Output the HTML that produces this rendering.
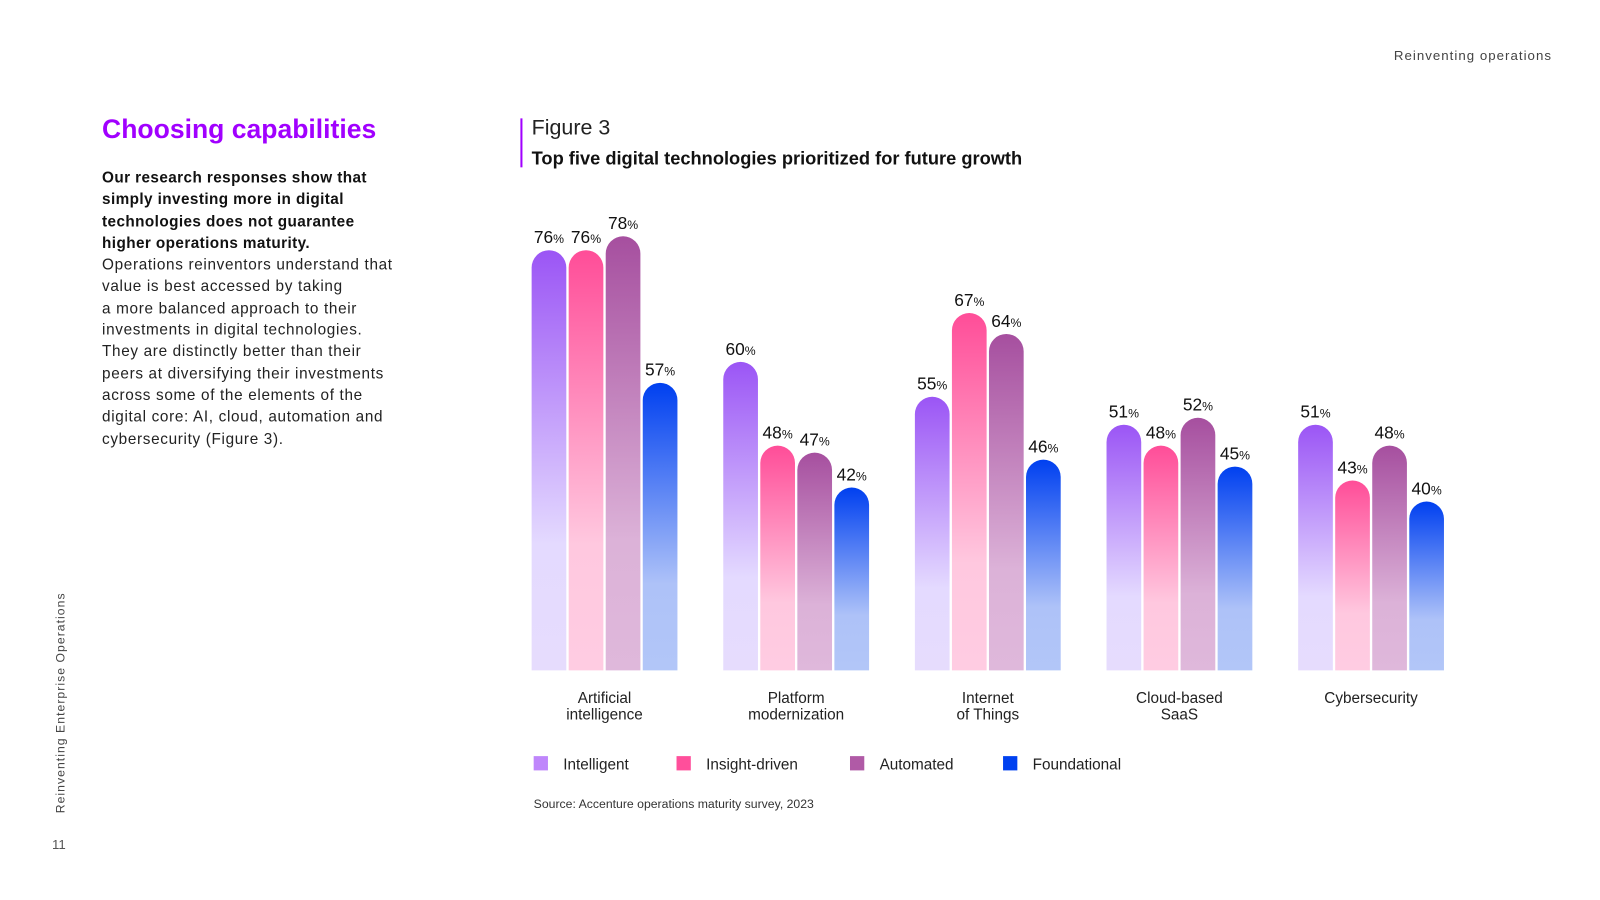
<!DOCTYPE html>
<html><head><meta charset="utf-8"><style>
body{margin:0;width:1600px;height:900px;background:#fff;position:relative;overflow:hidden;font-family:"Liberation Sans",sans-serif;color:#111}
#wrap{position:absolute;left:0;top:0;width:1568px;height:882px;transform:scale(1.0204);transform-origin:0 0}
.abs{position:absolute}
</style></head><body>
<div id="wrap">
<div class="abs" style="left:1366px;top:47px;font-size:13px;letter-spacing:1px;color:#444">Reinventing operations</div>
<div class="abs" style="left:100px;top:111px;font-size:26px;font-weight:bold;color:#a100ff">Choosing capabilities</div>
<div class="abs" style="left:100px;top:164px;font-size:15px;line-height:21.3px;color:#222;letter-spacing:0.65px">
<b style="color:#111;letter-spacing:0.4px">Our research responses show that<br>simply investing more in digital<br>technologies does not guarantee<br>higher operations maturity.</b><br>Operations reinventors understand that<br>value is best accessed by taking<br>a more balanced approach to their<br>investments in digital technologies.<br>They are distinctly better than their<br>peers at diversifying their investments<br>across some of the elements of the<br>digital core: AI, cloud, automation and<br>cybersecurity (Figure 3).</div>
<div class="abs" style="left:52px;top:797px;transform:rotate(-90deg);transform-origin:0 0;font-size:12px;letter-spacing:1px;color:#444;white-space:nowrap">Reinventing Enterprise Operations</div>
<div class="abs" style="left:51px;top:820px;font-size:13px;color:#555">11</div>
<div class="abs" style="left:510px;top:116px;width:2px;height:48px;background:#a100ff"></div>
<div class="abs" style="left:521px;top:114px;font-size:21px;color:#222">Figure 3</div>
<div class="abs" style="left:521px;top:145px;font-size:17.9px;font-weight:bold;color:#111">Top five digital technologies prioritized for future growth</div>
<div class="abs" style="left:523px;top:781px;font-size:12px;color:#333">Source: Accenture operations maturity survey, 2023</div>
<svg id="chart" class="abs" style="left:0;top:0" width="1568" height="882">
<defs>
<linearGradient id="g0" x1="0" y1="0" x2="0" y2="1"><stop offset="0" stop-color="#9b55f5"/><stop offset="0.7" stop-color="#e4daff"/><stop offset="1" stop-color="#e6dcfd"/></linearGradient>
<linearGradient id="g1" x1="0" y1="0" x2="0" y2="1"><stop offset="0" stop-color="#ff4d98"/><stop offset="0.7" stop-color="#ffc8df"/><stop offset="1" stop-color="#ffcce2"/></linearGradient>
<linearGradient id="g2" x1="0" y1="0" x2="0" y2="1"><stop offset="0" stop-color="#a64f9f"/><stop offset="0.7" stop-color="#dcb2d8"/><stop offset="1" stop-color="#dfb8db"/></linearGradient>
<linearGradient id="g3" x1="0" y1="0" x2="0" y2="1"><stop offset="0" stop-color="#0040f0"/><stop offset="0.7" stop-color="#aec2f8"/><stop offset="1" stop-color="#b2c6f8"/></linearGradient>
</defs>
</svg>
</div>
<script>
const categories = [["Artificial","intelligence"],["Platform","modernization"],["Internet","of Things"],["Cloud-based","SaaS"],["Cybersecurity"]];
const seriesNames = ["Intelligent","Insight-driven","Automated","Foundational"];
const intelligent = [76,60,55,51,51];
const insightDriven = [76,48,67,48,43];
const automated = [78,47,64,52,48];
const foundational = [57,42,46,45,40];
const series = [intelligent, insightDriven, automated, foundational];
const legendColors = ["#bf86fb","#ff4f9b","#b05aa6","#0041f0"];

const svg = document.getElementById('chart');
const NS = 'http://www.w3.org/2000/svg';
const baseY = 657, unit = 6.84, vMin = 15.8, x0 = 521, groupStep = 187.8, barStep = 36.3, bw = 34;
const yScale = v => baseY - (v - vMin) * unit;
const xScale = (c, s) => x0 + c * groupStep + s * barStep;
function mk(tag, attrs){const e=document.createElementNS(NS,tag);for(const k in attrs)e.setAttribute(k,attrs[k]);svg.appendChild(e);return e;}

series.forEach((vals, s) => {
  vals.forEach((v, c) => {
    const x = xScale(c, s), y = yScale(v), r = bw/2;
    const d = `M${x},${baseY} L${x},${y+r} A${r},${r} 0 0 1 ${x+bw},${y+r} L${x+bw},${baseY} Z`;
    const p = mk('path', {d: d, fill: `url(#g${s})`});
    
    
    const t = mk('text', {x: x + r, y: y - 7, 'text-anchor': 'middle', 'font-size': 17, fill: '#111', 'font-family': 'Liberation Sans, sans-serif'});
    
    
    t.textContent = v;
    const ts = document.createElementNS(NS, 'tspan');
    ts.setAttribute('font-size', '12');
    ts.textContent = '%';
    t.appendChild(ts);
  });
});
categories.forEach((lines, c) => {
  const cx = xScale(c, 0) + (3 * barStep + bw) / 2;
  lines.forEach((ln, i) => {
    const t = mk('text', {x: cx, y: 689 + i * 16, 'text-anchor': 'middle', 'font-size': 15, fill: '#222', 'font-family': 'Liberation Sans, sans-serif'});
    
    
    t.textContent = ln;
  });
});
const legX = [523, 663, 833, 983];
seriesNames.forEach((n, s) => {
  const r = mk('rect', {x: legX[s], y: 741, width: 14, height: 14, fill: legendColors[s]});
  
  
  const t = mk('text', {x: legX[s] + 29, y: 754, 'font-size': 15, fill: '#222', 'font-family': 'Liberation Sans, sans-serif'});
  
  
  t.textContent = n;
});
</script>
</body></html>
